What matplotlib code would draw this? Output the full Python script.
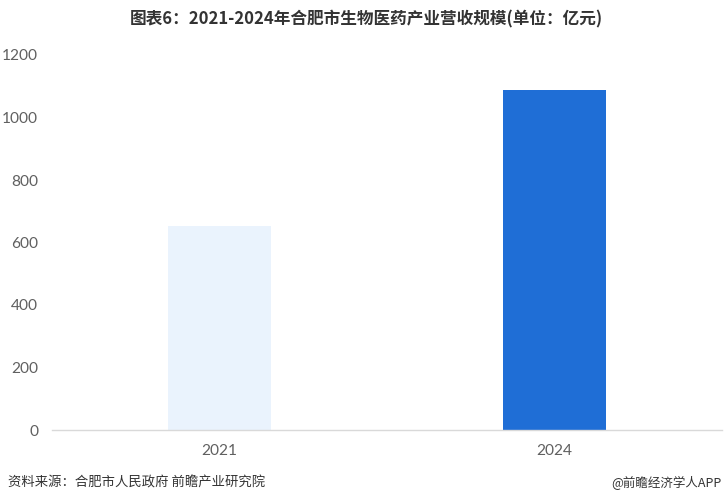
import matplotlib
matplotlib.use("Agg")
import matplotlib.pyplot as plt

plt.rcParams['font.family'] = ['Noto Sans CJK SC', 'DejaVu Sans']

# data
years = ['2021', '2024']
revenue = [653, 1088]
bar_colors = ['#EAF3FD', '#1F6ED6']
yticks = [0, 200, 400, 600, 800, 1000, 1200]

W, H = 727, 504
fig = plt.figure(figsize=(W / 100, H / 100), dpi=100, facecolor='white')
# axes in pixel terms: left 52, right 722, bottom 430, top 55
ax = fig.add_axes([52 / W, 1 - 430 / H, (722 - 52) / W, (430 - 55) / H])

x = range(len(years))
ax.bar(x, revenue, width=0.307, color=bar_colors, zorder=2)

ax.set_xlim(-0.5, 1.5)
ax.set_ylim(0, 1200)
tick_font = dict(family='Lato', fontsize=11.2, color='#606060')
ax.set_yticks(yticks)
ax.set_yticklabels([str(v) for v in yticks], **tick_font)
ax.set_xticks(list(x))
ax.set_xticklabels(years, **tick_font)
ax.tick_params(axis='both', length=0)
ax.tick_params(axis='y', pad=10)
ax.tick_params(axis='x', pad=10)

for s in ['top', 'right', 'left']:
    ax.spines[s].set_visible(False)
ax.spines['bottom'].set_color('#D9D9D9')
ax.spines['bottom'].set_linewidth(1)

fig.text(366 / W, 1 - 19 / H, '图表6：2021-2024年合肥市生物医药产业营收规模(单位：亿元)',
         ha='center', va='center', fontsize=12, fontweight='bold', color='#333333')
fig.text(8 / W, 1 - 483 / H, '资料来源：合肥市人民政府 前瞻产业研究院',
         ha='left', va='center', fontsize=9.6, color='#333333')
fig.text(722 / W, 1 - 483 / H, '@前瞻经济学人APP',
         ha='right', va='center', fontsize=9, color='#333333')

fig.savefig('out.png', dpi=100, facecolor='white')
